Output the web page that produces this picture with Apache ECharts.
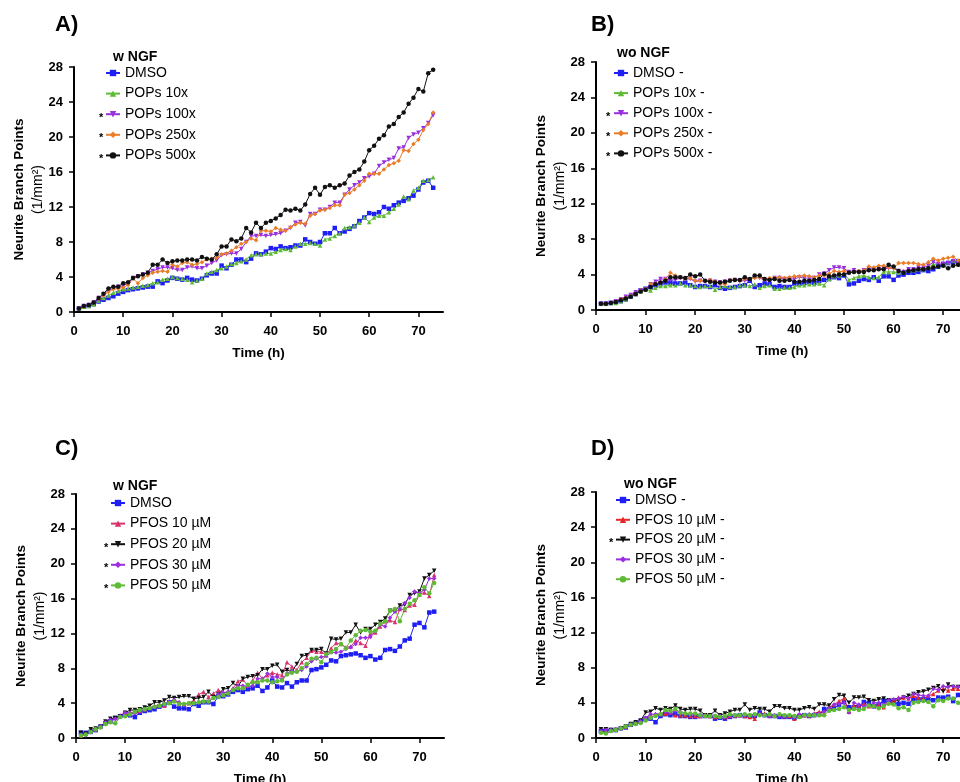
<!DOCTYPE html>
<html>
<head>
<meta charset="utf-8">
<script src="https://cdn.jsdelivr.net/npm/echarts@6/dist/echarts.min.js"></script>
<style>
  body { margin: 0; background: #fff; }
  .panel { position: absolute; width: 480px; height: 391px; }
</style>
</head>
<body>
<div id="chartA" class="panel" style="left:0;top:0"></div>
<div id="chartB" class="panel" style="left:480px;top:0"></div>
<div id="chartC" class="panel" style="left:0;top:391px"></div>
<div id="chartD" class="panel" style="left:480px;top:391px"></div>
<script>
  // time points (h)
  let hours = [1,2,3,4,5,6,7,8,9,10,11,12,13,14,15,16,17,18,19,20,21,22,23,24,25,26,27,28,29,30,
    31,32,33,34,35,36,37,38,39,40,41,42,43,44,45,46,47,48,49,50,51,52,53,54,55,56,57,58,59,60,
    61,62,63,64,65,66,67,68,69,70,71,72,73];
  let xTicks = [0, 10, 20, 30, 40, 50, 60, 70];
  let yTicks = [0, 4, 8, 12, 16, 20, 24, 28];

  // A) w NGF, POPs
  let aDmso = [0.4,0.6,0.7,0.9,1.2,1.4,1.6,1.8,2.1,2.3, 2.5,2.6,2.7,2.8,2.9,2.9,3.5,3.3,3.6,3.9,
    3.8,3.7,3.9,3.7,3.6,3.8,4.2,4.4,4.4,5.3, 5.0,5.4,6.0,6.0,5.7,6.1,6.7,6.6,6.9,7.3,
    7.2,7.5,7.3,7.4,7.6,7.6,8.3,8.0,7.8,8.0, 9.0,9.0,9.6,9.0,9.2,9.5,9.8,10.4,10.8,11.3,
    11.2,11.4,12.0,11.8,12.2,12.5,12.7,13.0,13.3,14.0, 14.8,15.0,14.2];
  let aPops10 = [0.4,0.6,0.7,0.9,1.3,1.6,1.9,2.2,2.4,2.6, 2.7,2.8,2.9,3.0,3.1,3.3,3.4,3.7,3.8,4.0,
    3.9,3.8,3.7,3.4,3.6,3.8,4.4,4.6,4.8,5.0, 5.2,5.5,5.6,5.8,6.0,6.5,6.6,6.6,6.7,6.7,
    6.9,7.1,7.2,7.1,7.5,7.8,7.8,7.9,7.8,7.6, 8.3,8.4,8.7,9.0,9.6,9.7,9.9,10.2,10.8,10.3,
    10.8,11.0,11.0,11.4,11.8,12.3,13.2,12.9,13.9,14.2, 15.0,15.1,15.4];
  let aPops100 = [0.4,0.7,0.8,1.1,1.6,2.0,2.5,2.7,2.9,3.0, 3.3,3.9,4.1,4.3,4.5,4.7,4.9,5.1,5.1,5.0,
    4.8,4.8,5.1,5.2,5.0,5.0,5.3,5.6,5.9,6.5, 6.6,6.7,6.7,7.2,8.0,8.7,8.7,8.8,8.7,8.8,
    8.9,9.0,9.3,9.6,10.2,10.3,9.9,11.2,11.2,11.7, 11.7,12.0,12.5,12.5,13.4,14.0,14.5,14.8,15.3,15.5,
    15.8,16.7,17.1,17.4,17.6,18.7,18.8,19.9,20.3,20.5, 21.0,21.6,22.5];
  let aPops250 = [0.4,0.6,0.8,1.1,1.5,1.9,2.3,2.6,2.7,2.8, 3.1,3.8,3.3,3.9,4.2,4.5,4.6,4.7,4.6,5.4,
    5.2,5.6,5.7,5.4,5.5,5.7,6.0,6.1,6.2,6.6, 6.7,7.0,7.4,7.8,8.0,8.4,8.2,9.3,9.3,9.2,
    9.6,9.4,9.3,9.7,10.0,10.2,10.1,11.0,11.2,11.6, 11.7,11.9,12.2,12.2,13.4,13.6,14.0,14.5,15.0,15.8,
    15.8,15.8,16.3,16.8,17.0,17.3,18.5,18.4,19.2,19.7, 20.8,21.5,22.8];
  let aPops500 = [0.4,0.7,0.8,1.1,1.6,2.1,2.7,2.9,2.9,3.3, 3.4,3.9,4.1,4.3,4.5,5.4,5.4,6.0,5.6,5.8,
    5.9,5.9,6.0,6.0,5.9,6.3,6.1,6.0,6.6,7.5, 7.5,8.3,8.1,8.4,9.6,9.1,10.2,9.6,10.2,10.4,
    10.7,11.1,11.7,11.6,11.8,11.6,12.3,13.5,14.2,13.4, 14.3,14.5,14.2,14.5,14.7,15.6,16.0,16.3,17.2,18.5,
    19.0,19.8,20.2,21.2,21.5,22.3,22.8,23.8,24.5,25.5, 25.2,27.3,27.7];

  // B) wo NGF, POPs
  let bDmso = [0.7,0.7,0.8,0.9,1.0,1.2,1.5,1.8,2.2,2.4, 2.6,2.8,3.0,3.1,3.1,3.0,3.0,3.1,2.8,2.6,
    2.7,2.7,2.6,2.8,2.5,2.4,2.5,2.6,2.7,2.8, 3.3,2.6,2.8,3.0,2.9,2.6,2.7,2.6,2.6,3.0,
    3.0,3.1,3.2,3.1,3.3,3.4,3.5,3.7,3.6,3.9, 2.9,3.0,3.3,3.5,3.4,3.7,3.3,3.8,3.8,3.4,
    3.9,4.0,4.2,4.2,4.3,4.5,4.4,4.6,4.9,5.2, 5.3,5.4,5.5];
  let bPops10 = [0.7,0.7,0.8,0.8,1.0,1.2,1.5,1.8,2.1,2.3, 2.2,2.5,2.7,2.7,2.8,2.8,3.0,2.8,2.8,2.7,
    2.6,2.7,2.7,2.3,2.6,2.7,2.6,2.6,2.8,2.8, 2.7,2.9,2.5,2.7,2.8,2.4,2.4,2.5,2.5,2.6,
    2.8,2.8,2.9,2.9,3.0,2.8,3.5,3.8,3.9,4.1, 3.4,3.6,3.8,3.9,3.7,3.6,3.7,4.3,4.3,4.3,
    4.2,4.4,4.5,4.5,4.6,4.6,4.8,5.2,5.0,5.3, 5.4,5.6,5.4];
  let bPops100 = [0.7,0.7,0.8,1.0,1.2,1.5,1.7,2.0,2.2,2.3, 2.9,3.2,3.5,3.5,3.4,3.4,3.6,3.5,3.5,3.2,
    3.3,3.2,3.3,3.2,3.1,3.2,3.3,3.4,3.3,3.3, 3.4,3.7,3.6,3.4,3.3,3.6,3.6,3.5,3.5,3.5,
    3.7,3.6,3.6,3.6,4.0,4.1,4.5,4.8,4.8,4.7, 4.3,4.5,4.3,4.5,4.7,4.6,4.6,4.7,4.7,4.7,
    4.4,4.3,4.6,4.6,4.8,4.8,5.0,5.4,5.2,5.2, 5.3,5.5,5.2];
  let bPops250 = [0.7,0.7,0.8,1.0,1.2,1.4,1.6,1.9,2.2,2.4, 2.9,3.0,3.1,3.5,4.2,3.9,3.7,3.5,3.6,3.3,
    3.3,3.3,3.4,3.2,3.0,2.9,3.4,3.4,3.3,3.5, 3.5,3.6,3.7,3.5,3.6,3.6,3.7,3.6,3.7,3.8,
    3.8,3.9,3.8,3.7,3.9,3.9,4.1,4.4,4.3,4.4, 4.2,4.3,4.4,4.5,4.9,4.8,5.0,5.0,4.8,4.7,
    5.3,5.3,5.3,5.3,5.2,5.1,5.4,5.8,5.6,5.8, 5.9,6.0,5.6];
  let bPops500 = [0.7,0.7,0.8,0.9,1.1,1.3,1.5,1.8,2.1,2.3, 2.6,2.9,3.1,3.3,3.7,3.7,3.7,3.6,4.0,3.8,
    4.0,3.3,3.2,3.1,3.1,3.2,3.3,3.4,3.4,3.7, 3.5,3.9,3.9,3.5,3.4,3.5,3.3,3.3,3.4,3.2,
    3.2,3.3,3.3,3.4,3.5,4.1,3.8,3.9,4.0,4.0, 4.2,4.3,4.3,4.3,4.5,4.5,4.6,4.6,5.1,4.9,
    4.4,4.2,4.4,4.5,4.6,4.6,4.7,4.8,4.9,5.0, 4.7,5.0,5.1];

  // C) w NGF, PFOS
  let cDmso = [0.6,0.6,0.7,0.9,1.3,1.7,1.9,2.3,2.5,2.7, 2.6,2.4,2.9,3.1,3.2,3.3,3.6,3.8,4.1,3.6,
    3.4,3.4,3.3,3.9,3.7,4.1,4.1,3.9,4.8,4.8, 5.0,5.3,5.5,5.3,5.6,5.7,6.0,5.4,5.8,6.6,
    5.9,5.8,6.3,5.9,6.4,6.6,6.6,7.8,7.9,8.1, 8.4,8.9,8.8,9.4,9.5,9.6,9.7,9.5,9.2,9.4,
    9.0,9.2,10.1,10.2,10.0,10.5,11.2,11.4,13.0,13.2, 12.7,14.4,14.5];
  let cPfos10 = [0.3,0.5,0.8,1.0,1.3,1.8,2.1,2.3,2.6,2.9, 2.9,3.0,3.1,3.3,3.5,3.7,3.8,3.7,4.1,4.4,
    4.0,3.9,4.0,4.3,5.0,5.3,4.7,5.1,5.5,5.2, 5.2,5.7,6.5,6.7,6.0,6.6,7.5,6.8,7.2,7.5,
    7.3,7.2,8.7,8.2,7.8,8.7,9.2,10.0,9.9,9.9, 9.5,10.3,10.9,10.8,10.4,10.5,11.2,10.9,10.6,12.0,
    12.1,12.8,13.4,13.5,13.3,14.8,14.7,15.2,15.3,16.5, 16.7,16.3,18.7];
  let cPfos20 = [0.6,0.5,1.0,1.1,1.3,1.9,2.2,2.3,2.5,2.9, 3.2,3.2,3.3,3.5,3.7,4.1,4.1,4.3,4.7,4.6,
    4.7,4.8,4.8,4.5,4.6,4.7,5.3,4.7,5.0,5.6, 5.7,6.3,5.9,6.8,7.0,7.1,7.2,7.9,7.9,8.3,
    8.4,7.6,7.8,7.6,8.5,9.4,9.5,10.1,10.1,10.2, 9.7,11.4,11.3,11.4,12.1,12.1,13.0,12.1,12.5,12.5,
    13.0,13.3,13.7,14.6,14.6,15.2,15.3,16.4,16.6,16.8, 18.3,18.7,19.2];
  let cPfos30 = [0.4,0.3,0.7,1.0,1.3,1.8,2.1,2.2,2.5,2.9, 2.9,2.8,3.1,3.3,3.4,3.6,3.8,3.9,4.2,4.4,
    4.1,3.8,4.0,4.0,4.1,4.2,4.2,4.6,5.0,5.2, 5.3,5.6,6.0,6.0,5.9,6.0,6.8,6.8,7.4,7.0,
    7.0,6.7,7.4,7.7,7.6,7.8,8.2,8.8,9.1,9.3, 9.4,9.8,9.8,9.9,10.2,10.4,10.8,11.5,11.5,11.6,
    12.2,13.0,12.8,13.8,14.5,14.8,15.5,16.1,16.8,16.6, 17.0,18.3,18.3];
  let cPfos50 = [0.3,0.4,0.7,1.0,1.2,1.6,1.8,1.7,2.4,2.5, 2.7,3.0,3.2,3.3,3.4,3.6,3.7,3.9,4.0,4.2,
    3.9,3.9,4.0,4.0,4.1,4.2,4.2,4.6,4.7,4.9, 5.1,5.5,5.7,5.7,6.1,6.4,6.4,6.6,6.6,6.4,
    6.5,6.6,7.3,7.5,7.6,8.0,8.5,9.1,9.2,8.7, 9.6,9.9,10.2,10.8,10.3,11.2,11.8,12.3,12.4,12.2,
    12.3,13.1,13.4,14.6,14.8,13.4,14.8,15.4,15.8,16.4, 17.3,16.6,17.8];

  // D) wo NGF, PFOS
  let dDmso = [0.8,0.8,0.9,0.9,1.1,1.2,1.5,1.7,1.9,2.2, 2.2,1.8,2.5,2.7,2.6,2.7,2.5,2.5,2.4,2.4,
    2.5,2.5,2.5,2.2,2.3,2.2,2.4,2.5,2.6,2.5, 2.5,2.5,2.9,2.6,2.5,2.5,2.4,2.4,2.4,2.3,
    2.5,2.6,2.5,2.6,2.7,3.3,3.3,3.4,3.8,4.1, 3.5,3.5,3.6,4.1,4.0,3.6,3.8,4.2,4.2,4.0,
    3.9,4.0,3.9,4.4,4.4,4.4,4.4,4.3,4.6,4.6, 4.7,4.2,4.9];
  let dPfos10 = [0.8,0.8,0.9,1.0,1.2,1.3,1.6,1.7,1.9,2.2, 2.6,2.7,2.8,2.8,2.9,2.6,2.6,2.6,2.5,2.5,
    2.5,2.6,2.5,2.4,2.5,2.4,2.5,2.6,2.6,2.5, 2.4,2.2,2.8,2.8,2.6,2.6,2.7,2.5,2.5,2.2,
    2.5,2.6,2.6,2.8,3.0,2.8,3.5,3.8,4.2,4.5, 3.0,3.7,3.7,3.9,3.6,3.7,3.8,3.5,4.2,4.3,
    4.6,4.6,4.5,4.8,4.6,4.5,4.8,5.0,5.4,5.6, 5.4,5.6,5.6];
  let dPfos20 = [1.0,1.0,0.9,0.9,1.1,1.3,1.6,1.8,2.0,2.9, 3.0,3.4,3.2,3.4,3.3,3.7,3.3,3.2,3.3,3.3,
    3.1,2.6,2.6,3.1,2.6,2.8,3.0,3.2,3.2,3.8, 3.2,3.4,3.3,3.3,3.0,3.6,3.6,3.4,3.4,3.2,
    3.2,3.4,3.5,3.3,3.8,3.8,3.7,4.4,4.9,4.8, 4.0,4.6,4.6,4.7,4.3,4.2,4.4,4.5,4.3,4.3,
    4.3,4.6,4.8,5.0,5.2,5.3,5.5,5.7,5.9,5.3, 6.1,5.8,5.8];
  let dPfos30 = [0.8,0.9,0.9,1.0,1.1,1.3,1.5,1.7,1.9,2.3, 2.7,2.7,2.7,3.0,2.9,3.1,3.0,2.8,2.7,2.7,
    2.6,2.6,2.5,2.5,2.5,2.4,2.5,2.6,2.5,2.6, 2.5,2.6,2.7,2.6,2.5,2.6,2.5,2.5,2.5,2.4,
    2.7,2.6,2.7,2.7,2.8,3.0,3.4,3.8,3.9,4.0, 2.9,4.0,3.8,3.6,3.7,4.0,4.0,3.8,4.3,4.4,
    4.5,4.7,4.5,5.0,4.9,4.8,4.8,5.6,5.5,5.9, 5.8,5.9,5.8];
  let dPfos50 = [0.6,0.5,0.8,0.9,1.1,1.3,1.5,1.6,1.7,2.0, 2.3,2.5,2.7,3.2,3.1,3.3,2.9,2.8,2.8,2.8,
    2.6,2.5,2.5,2.5,2.4,2.5,2.7,2.6,2.6,2.7, 2.6,2.7,2.6,2.6,2.7,2.5,2.7,2.6,2.6,2.5,
    2.4,2.6,2.6,2.6,2.6,2.6,3.1,3.2,3.3,3.5, 3.2,3.3,3.2,3.3,3.7,3.6,3.4,3.6,3.9,3.8,
    3.4,3.5,3.2,4.0,4.1,4.2,4.1,3.6,4.3,4.2, 4.5,4.5,4.0];

  let BLUE = '#1f1ff5', GREEN = '#5fba35', PURPLE = '#9a2fe0', ORANGE = '#ea7d2a',
      BLACK = '#111111', PINK = '#d9336e', RED = '#e8262a';
  let FONT = '"Liberation Sans", Arial, sans-serif';

  function drawPanel (id, cfg) {
    let series = cfg.lines.map(function (s) {
      return {
        name: s.name,
        type: 'line',
        data: s.data.map(function (v, i) { return [hours[i], v]; }),
        symbol: s.symbol,
        symbolRotate: s.rotate || 0,
        symbolSize: s.size || 4.5,
        itemStyle: { color: s.color },
        lineStyle: { color: s.color, width: 1 },
        emphasis: { disabled: true },
        animation: false
      };
    });

    let graphics = [
      { type: 'text', left: cfg.tag[0], top: cfg.tag[1],
        style: { text: cfg.tag[2], font: 'bold 22px ' + FONT, fill: '#000' } },
      { type: 'text', left: cfg.legTitle[0], top: cfg.legTitle[1],
        style: { text: cfg.legTitle[2], font: 'bold 14px ' + FONT, fill: '#000' } }
    ];
    // significance stars in front of the legend icons
    cfg.stars.forEach(function (k) {
      graphics.push({ type: 'text', left: cfg.starX, top: cfg.legTop + k * cfg.legStep + 5,
        style: { text: '*', font: 'bold 11px ' + FONT, fill: '#000' } });
    });

    let option = {
      animation: false,
      textStyle: { fontFamily: FONT },
      grid: {
        left: cfg.grid[0], top: cfg.grid[1], width: cfg.grid[2], height: cfg.grid[3],
        containLabel: false,
        outerBoundsMode: 'none'
      },
      legend: {
        orient: 'vertical',
        left: cfg.legLeft,
        top: cfg.legTop,
        padding: 0,
        itemWidth: 14,
        itemHeight: 8,
        itemGap: cfg.legStep - 14,
        textStyle: { fontSize: 14, color: '#000', lineHeight: 14, fontFamily: FONT },
        selectedMode: false,
        data: cfg.lines.map(function (s) { return s.name; })
      },
      xAxis: {
        type: 'value',
        min: 0, max: 75, interval: 10,
        name: 'Time (h)',
        nameLocation: 'middle',
        nameGap: 34,
        nameTextStyle: { fontWeight: 'bold', fontSize: 13.5, color: '#000' },
        axisLine: { onZero: false, lineStyle: { color: '#000', width: 2 } },
        axisTick: { length: 5, lineStyle: { color: '#000', width: 1.5 }, customValues: xTicks },
        axisLabel: { fontWeight: 'bold', fontSize: 13, color: '#000', margin: 13, customValues: xTicks },
        splitLine: { show: false }
      },
      yAxis: {
        type: 'value',
        min: 0, max: 28, interval: 4,
        name: '{a|Neurite Branch Points}\n{b|(1/mm²)}',
        nameLocation: 'middle',
        nameGap: 26,
        nameMoveOverlap: false,
        nameTextStyle: {
          color: '#000',
          rich: {
            a: { fontWeight: 'bold', fontSize: 13.5, lineHeight: 19, color: '#000' },
            b: { fontSize: 14, lineHeight: 19, color: '#000' }
          }
        },
        axisLine: { show: true, lineStyle: { color: '#000', width: 2 } },
        axisTick: { show: true, length: 5, lineStyle: { color: '#000', width: 1.5 }, customValues: yTicks },
        axisLabel: { fontWeight: 'bold', fontSize: 13, color: '#000', margin: 11, customValues: yTicks },
        splitLine: { show: false }
      },
      graphic: graphics,
      series: series
    };
    let myChart = echarts.init(document.getElementById(id));
    myChart.setOption(option);
  }

  drawPanel('chartA', {
    grid: [74, 67, 369, 245],
    tag: [55, 14, 'A)'],
    legTitle: [113, 50, 'w NGF'],
    legLeft: 105, legTop: 66, legStep: 20.6, starX: 99, stars: [2, 3, 4],
    lines: [
      { name: 'DMSO', data: aDmso, color: BLUE, symbol: 'rect' },
      { name: 'POPs 10x', data: aPops10, color: GREEN, symbol: 'triangle' },
      { name: 'POPs 100x', data: aPops100, color: PURPLE, symbol: 'triangle', rotate: 180 },
      { name: 'POPs 250x', data: aPops250, color: ORANGE, symbol: 'diamond' },
      { name: 'POPs 500x', data: aPops500, color: BLACK, symbol: 'circle' }
    ]
  });

  drawPanel('chartB', {
    grid: [116, 62, 372, 248],
    tag: [111, 14, 'B)'],
    legTitle: [137, 46, 'wo NGF'],
    legLeft: 133, legTop: 66, legStep: 20.1, starX: 126, stars: [2, 3, 4],
    lines: [
      { name: 'DMSO -', data: bDmso, color: BLUE, symbol: 'rect' },
      { name: 'POPs 10x -', data: bPops10, color: GREEN, symbol: 'triangle' },
      { name: 'POPs 100x -', data: bPops100, color: PURPLE, symbol: 'triangle', rotate: 180 },
      { name: 'POPs 250x -', data: bPops250, color: ORANGE, symbol: 'diamond' },
      { name: 'POPs 500x -', data: bPops500, color: BLACK, symbol: 'circle' }
    ]
  });

  drawPanel('chartC', {
    grid: [76, 103, 368, 244],
    tag: [55, 47, 'C)'],
    legTitle: [113, 88, 'w NGF'],
    legLeft: 110, legTop: 105, legStep: 20.6, starX: 104, stars: [2, 3, 4],
    lines: [
      { name: 'DMSO', data: cDmso, color: BLUE, symbol: 'rect' },
      { name: 'PFOS 10 µM', data: cPfos10, color: PINK, symbol: 'triangle' },
      { name: 'PFOS 20 µM', data: cPfos20, color: BLACK, symbol: 'triangle', rotate: 180 },
      { name: 'PFOS 30 µM', data: cPfos30, color: PURPLE, symbol: 'diamond' },
      { name: 'PFOS 50 µM', data: cPfos50, color: GREEN, symbol: 'circle' }
    ]
  });

  drawPanel('chartD', {
    grid: [116, 101, 372, 246],
    tag: [111, 47, 'D)'],
    legTitle: [144, 86, 'wo NGF'],
    legLeft: 135, legTop: 102, legStep: 19.8, starX: 129, stars: [2],
    lines: [
      { name: 'DMSO -', data: dDmso, color: BLUE, symbol: 'rect' },
      { name: 'PFOS 10 µM -', data: dPfos10, color: RED, symbol: 'triangle' },
      { name: 'PFOS 20 µM -', data: dPfos20, color: BLACK, symbol: 'triangle', rotate: 180 },
      { name: 'PFOS 30 µM -', data: dPfos30, color: PURPLE, symbol: 'diamond' },
      { name: 'PFOS 50 µM -', data: dPfos50, color: GREEN, symbol: 'circle' }
    ]
  });
</script>
</body>
</html>
